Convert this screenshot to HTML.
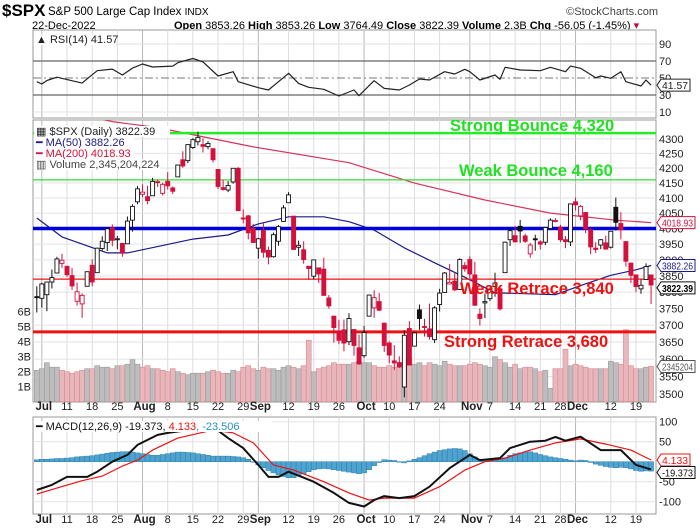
<!DOCTYPE html>
<html><head><meta charset="utf-8"><style>
html,body{margin:0;padding:0;background:#fff;}
svg{display:block;font-family:"Liberation Sans",Arial,sans-serif;}
</style></head><body>
<svg id="c" width="700" height="530" viewBox="0 0 700 530">
<g>
<text x="2" y="16" font-size="17" font-weight="bold" fill="#000">$SPX</text>
<text x="48" y="15" font-size="11.5" fill="#000">S&amp;P 500 Large Cap Index <tspan font-size="10">INDX</tspan></text>
<text x="658" y="15" font-size="11" fill="#444" text-anchor="end">©StockCharts.com</text>
<text x="32" y="29" font-size="11" fill="#000">22-Dec-2022</text>
<text x="174" y="29" font-size="11" fill="#000"><tspan font-weight="bold">Open</tspan> 3853.26 <tspan font-weight="bold">High</tspan> 3853.26 <tspan font-weight="bold">Low</tspan> 3764.49 <tspan font-weight="bold">Close</tspan> 3822.39 <tspan font-weight="bold">Volume</tspan> 2.3B <tspan font-weight="bold">Chg</tspan> -56.05 (-1.45%) <tspan fill="#b0123b">▾</tspan></text>
</g>
<g id="grid"></g>
<g id="vol"></g>
<g id="lines"></g>
<g id="candles"></g>
<g id="ind"></g>
<g id="over"></g>
</svg>
<script>
// ---- data ----
const dates=["Jun30","Jul1","Jul5","Jul6","Jul7","Jul8","Jul11","Jul12","Jul13","Jul14","Jul15","Jul18","Jul19","Jul20","Jul21","Jul22","Jul25","Jul26","Jul27","Jul28","Jul29","Aug1","Aug2","Aug3","Aug4","Aug5","Aug8","Aug9","Aug10","Aug11","Aug12","Aug15","Aug16","Aug17","Aug18","Aug19","Aug22","Aug23","Aug24","Aug25","Aug26","Aug29","Aug30","Aug31","Sep1","Sep2","Sep6","Sep7","Sep8","Sep9","Sep12","Sep13","Sep14","Sep15","Sep16","Sep19","Sep20","Sep21","Sep22","Sep23","Sep26","Sep27","Sep28","Sep29","Sep30","Oct3","Oct4","Oct5","Oct6","Oct7","Oct10","Oct11","Oct12","Oct13","Oct14","Oct17","Oct18","Oct19","Oct20","Oct21","Oct24","Oct25","Oct26","Oct27","Oct28","Oct31","Nov1","Nov2","Nov3","Nov4","Nov7","Nov8","Nov9","Nov10","Nov11","Nov14","Nov15","Nov16","Nov17","Nov18","Nov21","Nov22","Nov23","Nov25","Nov28","Nov29","Nov30","Dec1","Dec2","Dec5","Dec6","Dec7","Dec8","Dec9","Dec12","Dec13","Dec14","Dec15","Dec16","Dec19","Dec20","Dec21","Dec22"];
const opens=[3786,3781,3792,3831,3859,3889,3880,3851,3772,3764,3818,3883,3860,3936,3955,4002,3966,3952,3951,4027,4087,4112,4104,4107,4154,4115,4155,4133,4170,4228,4225,4270,4290,4280,4273,4266,4195,4134,4126,4153,4199,4034,4041,4000,3937,3994,3930,3910,3959,4023,4084,4040,3940,3932,3880,3849,3875,3871,3782,3727,3682,3686,3651,3687,3633,3610,3727,3752,3771,3706,3647,3595,3590,3520,3690,3638,3746,3696,3689,3657,3762,3799,3825,3834,3808,3882,3901,3853,3733,3767,3780,3817,3810,3860,3964,3977,4007,3976,3919,3967,3957,3956,4000,4024,4005,3964,3957,4087,4041,4052,3996,3937,3947,3954,3940,4069,4016,3958,3890,3853,3810,3839,3853];
const highs=[3818,3829,3832,3870,3910,3919,3880,3874,3829,3796,3864,3902,3939,3975,4000,4013,3976,3954,4039,4079,4140,4145,4140,4167,4161,4151,4186,4138,4211,4257,4280,4302,4325,4302,4292,4266,4195,4160,4156,4200,4203,4062,4044,4015,3970,4018,3942,3987,4011,4076,4119,4040,3961,3959,3880,3900,3876,3907,3791,3727,3716,3717,3736,3688,3672,3698,3792,3806,3797,3707,3652,3641,3608,3685,3712,3680,3762,3719,3765,3757,3810,3862,3887,3859,3905,3893,3911,3894,3750,3796,3814,3860,3818,3958,4001,4008,4028,3983,3954,3980,3962,4004,4033,4034,4012,3976,4080,4101,4077,4052,4002,3956,3966,3977,3991,4101,4053,3958,3890,3854,3839,3889,3853];
const lows=[3738,3753,3742,3811,3858,3875,3847,3807,3759,3722,3818,3818,3860,3930,3928,3943,3934,3910,3951,3990,4079,4102,4079,4107,4136,4108,4128,4113,4170,4201,4217,4265,4277,4253,4264,4219,4129,4124,4119,4147,4057,4017,3965,3954,3904,3907,3886,3907,3945,4022,4083,3933,3912,3888,3837,3839,3828,3789,3750,3648,3644,3623,3641,3610,3584,3604,3726,3722,3742,3621,3588,3569,3574,3491,3582,3638,3686,3666,3657,3647,3741,3799,3824,3803,3808,3863,3843,3758,3699,3721,3773,3786,3744,3860,3944,3957,3954,3954,3907,3929,3933,3947,3998,4020,3956,3937,3944,4059,4027,3985,3918,3922,3934,3933,3936,3993,3965,3879,3828,3800,3795,3839,3764];
const closes=[3785,3825,3831,3845,3903,3899,3854,3819,3801,3790,3863,3831,3937,3959,3999,3962,3967,3921,4024,4072,4130,4119,4091,4155,4152,4145,4140,4122,4210,4207,4280,4297,4305,4274,4284,4228,4138,4128,4141,4199,4058,4031,3986,3955,3967,3924,3909,3980,4006,4067,4110,3933,3946,3901,3873,3900,3856,3790,3758,3693,3655,3647,3720,3640,3586,3678,3791,3783,3745,3640,3612,3589,3577,3670,3583,3677,3720,3695,3666,3752,3797,3859,3830,3807,3901,3872,3856,3760,3720,3771,3807,3828,3749,3956,3993,3957,3992,3959,3947,3965,3950,4003,4027,4026,3964,3958,4080,4077,4072,3999,3941,3933,3964,3934,3991,4020,3996,3896,3852,3817,3821,3879,3822];
const volumes=[2.1,2.2,2.6,2.3,2.3,2.1,2.0,1.9,2.0,2.1,
2.2,2.2,2.4,2.3,2.3,2.2,2.4,2.4,2.5,2.8,
2.5,2.3,2.4,2.2,2.2,2.1,2.0,2.2,2.0,1.9,
1.8,1.9,1.9,1.9,2.0,2.1,2.0,1.9,1.9,2.1,
2.0,2.3,2.4,2.2,2.1,2.3,2.2,2.2,2.1,2.3,
2.4,2.3,2.2,2.4,4.1,2.0,2.2,2.3,2.4,2.6,
2.5,2.5,2.5,2.6,2.7,2.6,2.6,2.4,2.3,2.3,
2.4,2.3,2.2,2.6,2.9,2.5,2.6,2.4,2.6,2.5,
2.4,2.7,2.5,2.4,2.4,2.4,2.5,2.6,2.5,2.4,
2.3,3.0,2.8,2.6,2.3,2.5,2.2,2.3,2.3,2.2,
2.0,2.1,0.9,2.2,2.2,3.5,2.4,2.5,2.4,2.3,
2.2,2.2,2.2,2.2,2.7,2.6,2.5,4.8,2.4,2.2,
2.2,2.3,2.35];
const ma50Day=[0,5,14,18,24,31,38,44,50,57,62,67,73,79,85,91,97,103,108,114,119,122];
const ma50Val=[4034,3973,3922,3922,3942,3966,3979,4015,4038,4038,4022,3995,3938,3891,3846,3798,3795,3792,3820,3852,3869,3882.26];
const ma200Day=[0,15,24,43,62,75,89,102,115,122];
const ma200Val=[4420,4360,4339,4272,4218,4149,4093,4050,4027,4018.93];
const rsiDay=[0,1,2,4,9,10,12,15,17,19,21,23,27,28,31,33,36,39,40,44,46,48,50,52,54,57,60,63,64,67,69,72,74,76,78,81,83,85,86,88,91,92,93,96,100,102,105,106,108,111,112,114,116,117,120,121,122];
const rsiVal=[45.7,43,47,51,44,49,58.6,60.5,53.5,61.7,66.5,63,64,68,73,69,52.4,57.4,45.7,38.6,35.9,45.7,55.5,43.7,39,36.7,28.8,35.9,29.2,46.8,37.8,35.9,41.8,48.8,47.6,57.4,54.7,60.2,57.4,47.6,53.5,48.5,62.6,59.4,58.6,62.6,57.4,64,61.4,50.4,52.4,49.6,57.4,45.7,40.6,47.6,41.57];
const macdDay=[0,3,6,10,12,15,18,20,24,26,30,35,38,41,44,46,48,50,55,59,62,65,67,69,72,75,78,82,86,88,92,94,98,101,103,105,108,112,116,119,122];
const macdVal=[-70.7,-58,-38,-38,-25,0,17,42,67,72,79,87.5,59,34,-8,-38,-38,-25,-50,-78,-103,-112,-96,-86,-91,-86,-62.5,-16,17,4,9,34,50,52.5,62,52.5,62.5,29,29,-8,-19.373];
const sigDay=[0,4,9,13,17,20,23,28,35,39,43,47,51,57,62,66,69,75,80,85,89,93,98,103,108,113,118,122];
const sigVal=[-81,-66,-47.5,-36,-11,4,29,59,79,72,47,-8,-21,-50,-78,-96,-91,-91,-62.5,-21,0,9,29,47,57,44,29,4.133];
const histVal=[5,6,6,7,8,8,9,10,12,13,14,15,17,19,21,23,24,25,25,24,22,20,18,16,16,18,20,22,24,24,23,22,20,18,16,14,14,14,14,13,12,10,6,0,-8,-15,-22,-28,-33,-37,-40,-40,-36,-30,-25,-20,-18,-17,-18,-20,-22,-24,-26,-28,-30,-28,-20,-10,-2,5,4,3,-1,-3,2,6,10,15,20,24,28,30,32,33,32,28,20,12,6,4,4,5,6,10,16,20,22,24,25,22,18,15,12,10,8,6,4,2,4,3,-2,-6,-9,-12,-14,-15,-14,-15,-18,-22,-24,-23,-23.5];
const priceTicks=[4300,4250,4200,4150,4100,4050,4000,3950,3900,3850,3800,3750,3700,3650,3600,3550,3500];
const volTicks=[1,2,3,4,5,6];
const rsiTicks=[90,70,50,30,10];
const macdTicks=[100,50,-50,-100];
const weekDay=[6,11,16,26,31,36,41,50,55,60,70,75,80,90,95,100,104,114,119];
const weekLbl=["11","18","25","8","15","22","29","12","19","26","10","17","24","7","14","21","28","12","19"];
const monthDay=[1,21,44,65,86,107];
const monthLbl=["Jul","Aug","Sep","Oct","Nov","Dec"];
const levelVal=[4320,4160,4000,3840,3680];
const levelLbl=["Strong Bounce 4,320","Weak Bounce 4,160","","Weak Retrace 3,840","Strong Retrace 3,680"];

// ---- axes ----
const L=33,R=656;
const X=i=>36.8+i*5.035;
const PY=p=>228.5-1240*Math.log(p/4000);
const VY=v=>401.7-v*15;
const RY=v=>61+(70-v)*0.85;
const MY=v=>461.7-v*0.4;
const NS="http://www.w3.org/2000/svg";
function mk(tag,attrs,parent,txt){const e=document.createElementNS(NS,tag);for(const k in attrs)e.setAttribute(k,attrs[k]);if(txt!==undefined)e.textContent=txt;parent.appendChild(e);return e;}
const G=id=>document.getElementById(id);
const grid=G('grid'),vol=G('vol'),lines=G('lines'),cg=G('candles'),ind=G('ind'),over=G('over');
const RED="#d3113c";

const panels=[[30,118,'rsi-panel'],[120,402,'price-panel'],[417,514,'macd-panel']];
panels.forEach(p=>{const r=mk('rect',{x:L,y:p[0],width:R-L,height:p[1]-p[0],fill:'#fff',stroke:'#999','stroke-width':1},grid);});
weekDay.forEach(d=>panels.forEach(p=>{mk('line',{x1:X(d),x2:X(d),y1:p[0],y2:p[1],stroke:'#dcdcdc'},grid);}));
monthDay.forEach(d=>panels.forEach(p=>{mk('line',{x1:X(d),x2:X(d),y1:p[0],y2:p[1],stroke:'#b8b8b8'},grid);}));
priceTicks.forEach(t=>{mk('line',{x1:L,x2:R,y1:PY(t),y2:PY(t),stroke:'#e2e2e2'},grid);const e=mk('text',{x:R+3,y:PY(t)+4,'font-size':11,fill:'#222'},over,String(t));});
volTicks.forEach(t=>{const e=mk('text',{x:L-2,y:VY(t)+4,'font-size':11,fill:'#222','text-anchor':'end'},over,t+'B');});
rsiTicks.forEach(t=>{const style=(t==70||t==30)?{stroke:'#666','stroke-width':1.3}:(t==50?{stroke:'#777','stroke-dasharray':'8,3,2,3'}:{stroke:'#e2e2e2'});mk('line',Object.assign({x1:L,x2:R,y1:RY(t),y2:RY(t)},style),grid);const e=mk('text',{x:R+3,y:RY(t)+4,'font-size':11,fill:'#222'},over,String(t));});
macdTicks.forEach(t=>{mk('line',{x1:L,x2:R,y1:MY(t),y2:MY(t),stroke:'#e2e2e2'},grid);const e=mk('text',{x:R+3,y:MY(t)+4,'font-size':11,fill:'#222'},over,String(t));});
[410,523].forEach(y=>{weekDay.forEach((d,k)=>{const e=mk('text',{x:X(d),y:y,'font-size':11,fill:'#222','text-anchor':'middle'},over,weekLbl[k]);});
monthDay.forEach((d,k)=>{const e=mk('text',{x:X(d)+2,y:y,'font-size':11.5,'font-weight':'bold',fill:'#222','text-anchor':'middle'},over,monthLbl[k]);});});

const defs=mk('defs',{},G('c'));
const cp=mk('clipPath',{id:'pc'},defs);mk('rect',{x:L,y:120,width:R-L,height:282},cp);
lines.setAttribute('clip-path','url(#pc)');

volumes.forEach((v,i)=>{const down=i>0&&closes[i]<closes[i-1];const r=mk('rect',{x:X(i)-2.5,y:VY(v),width:5,height:401.7-VY(v),fill:down?'#e8b7bc':'#bdbdbd',stroke:down?'#d98a93':'#9c9c9c','stroke-width':0.6},vol);});

function poly(days,vals,xf,yf,col,w,parent,name){const pts=days.map((d,k)=>xf(d).toFixed(1)+','+yf(vals[k]).toFixed(1)).join(' ');const e=mk('polyline',{points:pts,fill:'none',stroke:col,'stroke-width':w,'stroke-linejoin':'round'},parent);return e;}
poly(ma200Day,ma200Val,X,PY,'#d8345a',1.2,lines,'ma200-line');
poly(ma50Day,ma50Val,X,PY,'#1a1a8c',1.2,lines,'ma50-line');

const lvStyle=[['#22ee22',2.5],['#33dd33',1.2],['#0000dd',3.5],['#ee1111',1.2],['#ee1111',3]];
levelVal.forEach((v,k)=>{const e=mk('line',{x1:L,x2:R,y1:PY(v),y2:PY(v),stroke:lvStyle[k][0],'stroke-width':lvStyle[k][1]},lines);});

closes.forEach((c,i)=>{const o=opens[i],h=highs[i],l=lows[i];const down=i>0&&c<closes[i-1];const col=down?RED:'#111';const x=X(i);
mk('line',{x1:x,x2:x,y1:PY(h),y2:PY(l),stroke:col,'stroke-width':1},cg);
const top=PY(Math.max(o,c)),bot=PY(Math.min(o,c));const r=mk('rect',{x:x-2,y:top,width:4,height:Math.max(1,bot-top),fill:c>o?'#fff':col,stroke:col,'stroke-width':0.9},cg);

});

const lvTxtCol=['#22e022','#22e022','','#ee1111','#ee1111'];
const lvTxtX=[450,459,0,460,444];
const lvTxtY=[131,176,0,294,347];
levelLbl.forEach((t,k)=>{if(!t)return;const e=mk('text',{x:lvTxtX[k],y:lvTxtY[k],'font-size':16.5,'font-weight':'bold',fill:lvTxtCol[k]},cg,t);});

poly(rsiDay,rsiVal,X,RY,'#222',1.2,ind,'rsi-line');
histVal.forEach((v,i)=>{const y0=MY(0),y1=MY(v);const r=mk('rect',{x:X(i)-2.5,y:Math.min(y0,y1),width:5,height:Math.max(0.5,Math.abs(y1-y0)),fill:'#4fa3cf',stroke:'#2a7fb0','stroke-width':0.5},ind);});
poly(sigDay,sigVal,X,MY,'#ee1111',1.2,ind,'macd-signal-line');
poly(macdDay,macdVal,X,MY,'#111',2,ind,'macd-line');

function legend(x,y,w,parts,name){const g=mk('g',{},over);mk('rect',{x:x-2,y:y-9,width:w,height:11,fill:'#fff'},g);const t=mk('text',{x:x,y:y,'font-size':11},g);parts.forEach(p=>{mk('tspan',{fill:p[1]},t,p[0]);});return g;}
legend(36,43,82,[['▲ RSI(14) 41.57','#222']],'rsi-legend');
legend(36,135,136,[['▦ $SPX (Daily) 3822.39','#222']],'price-legend');
legend(36,146,100,[['━ MA(50) 3882.26','#1a1a8c']],'ma50-legend');
legend(36,157,100,[['━ MA(200) 4018.93','#d3113c']],'ma200-legend');
legend(36,168,126,[['▥ Volume 2,345,204,224','#444']],'volume-legend');
legend(36,430,238,[['━ MACD(12,26,9) -19.373, ','#111'],['4.133','#ee1111'],[', -23.506','#2a8fc8']],'macd-legend');

function tag(y,txt,col,bold,name){const g=mk('g',{},over);const w=Math.min(31,txt.length*5+1);mk('path',{d:`M${R+1},${y} l4,-6 h${w+3} v12 h-${w+3} z`,fill:'#fff',stroke:col,'stroke-width':1},g);mk('text',{x:R+6,y:y+4,'font-size':10,'font-weight':bold?'bold':'normal',fill:bold?'#000':col,textLength:w,lengthAdjust:'spacingAndGlyphs'},g,txt);}
tag(RY(41.57),'41.57','#222',false,'rsi-value-tag');
tag(PY(4018.93),'4018.93','#d3113c',false,'ma200-value-tag');
tag(PY(3882.26),'3882.26','#1a1a8c',false,'ma50-value-tag');
tag(PY(3822.39)+3,'3822.39','#111',true,'close-value-tag');
tag(VY(2.345),'2345204','#555',false,'volume-value-tag');
tag(MY(4.133),'4.133','#ee1111',false,'signal-value-tag');
tag(MY(-19.373)+3,'-19.373','#111',false,'macd-value-tag');
</script>
</body></html>
